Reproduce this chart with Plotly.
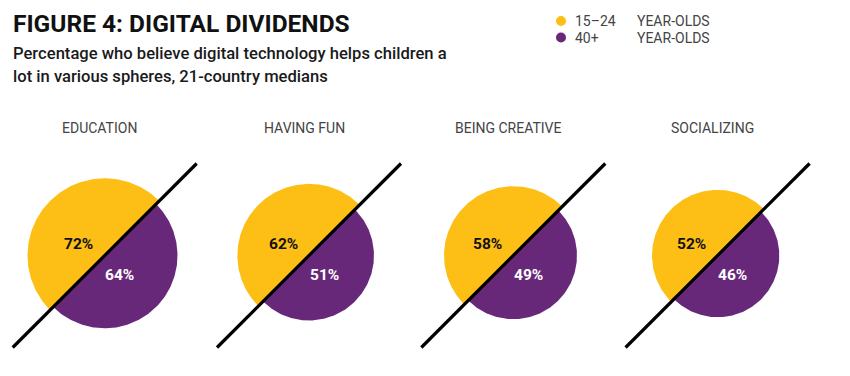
import numpy as np
import plotly.graph_objects as go

# ---- data ----
categories = ["EDUCATION", "HAVING FUN", "BEING CREATIVE", "SOCIALIZING"]
young_values = [72, 62, 58, 52]   # 15–24 year-olds
older_values = [64, 51, 49, 46]   # 40+ year-olds
series_names = ["15–24", "40+"]
series_suffix = "YEAR-OLDS"
title_text = "FIGURE 4: DIGITAL DIVIDENDS"
subtitle_lines = ["Percentage who believe digital technology helps children a",
                  "lot in various spheres, 21-country medians"]

# ---- style ----
YELLOW = "#FDBE16"
PURPLE = "#68287A"
FONT = "Roboto"
W, H = 850, 376
X0, DX, CY = 104.7, 204.3, 255.5      # layout of the circle centres (px units)
K = 9.1                                # radius scale: r = K * sqrt(value)
HALF_LINE = 92                         # half extent of diagonal divider
LABEL_Y = 127.5

fig = go.Figure()


def half_disc(cx, cy, r, a0, a1):
    t = np.radians(np.linspace(a0, a1, 181))
    xs = cx + r * np.cos(t)
    ys = cy - r * np.sin(t)
    return list(xs) + [xs[0]], list(ys) + [ys[0]]


for i, cat in enumerate(categories):
    cx = X0 + DX * i
    ry = K * np.sqrt(young_values[i])
    rp = K * np.sqrt(older_values[i])
    xs, ys = half_disc(cx, CY, ry, 45, 225)
    fig.add_trace(go.Scatter(x=xs, y=ys, mode="lines", fill="toself",
                             fillcolor=YELLOW, line=dict(width=0, color=YELLOW),
                             hoverinfo="skip", showlegend=False))
    xs, ys = half_disc(cx, CY, rp, 225, 405)
    fig.add_trace(go.Scatter(x=xs, y=ys, mode="lines", fill="toself",
                             fillcolor=PURPLE, line=dict(width=0, color=PURPLE),
                             hoverinfo="skip", showlegend=False))
    fig.add_trace(go.Scatter(x=[cx - HALF_LINE, cx + HALF_LINE],
                             y=[CY + HALF_LINE, CY - HALF_LINE],
                             mode="lines", line=dict(color="#000000", width=3.2),
                             hoverinfo="skip", showlegend=False))
    fig.add_annotation(x=cx - 26, y=CY - 12, text=f"{young_values[i]}%",
                       showarrow=False, xanchor="center", yanchor="middle",
                       font=dict(family=FONT, size=15.5, color="#111111", weight="bold"))
    fig.add_annotation(x=cx + 15, y=CY + 19, text=f"{older_values[i]}%",
                       showarrow=False, xanchor="center", yanchor="middle",
                       font=dict(family=FONT, size=15.5, color="#FFFFFF", weight="bold"))
    fig.add_annotation(x=cx - 5, y=LABEL_Y, text=cat, showarrow=False,
                       xanchor="center", yanchor="middle",
                       font=dict(family=FONT, size=14, color="#444444"))

# title & subtitle
fig.add_annotation(x=11, y=23, text=title_text, showarrow=False,
                   xanchor="left", yanchor="middle",
                   font=dict(family=FONT, size=24.5, color="#111111", weight="bold"))
for j, line in enumerate(subtitle_lines):
    fig.add_annotation(x=11, y=53 + 23.5 * j, text=line, showarrow=False,
                       xanchor="left", yanchor="middle",
                       font=dict(family=FONT, size=16.6, color="#1a1a1a", weight=500))

# legend
for j, (name, col) in enumerate(zip(series_names, [YELLOW, PURPLE])):
    yy = 21 + 16.5 * j
    fig.add_trace(go.Scatter(x=[561], y=[yy], mode="markers",
                             marker=dict(size=10, color=col), hoverinfo="skip",
                             showlegend=False))
    fig.add_annotation(x=573, y=yy, text=name, showarrow=False, xanchor="left",
                       yanchor="middle", font=dict(family=FONT, size=14, color="#444444"))
    fig.add_annotation(x=635, y=yy, text=series_suffix, showarrow=False, xanchor="left",
                       yanchor="middle", font=dict(family=FONT, size=14, color="#444444"))

fig.update_layout(
    width=W, height=H, margin=dict(l=0, r=0, t=0, b=0),
    paper_bgcolor="white", plot_bgcolor="white",
    xaxis=dict(range=[0, W], visible=False, fixedrange=True),
    yaxis=dict(range=[H, 0], visible=False, fixedrange=True),
    showlegend=False,
)

fig.write_html("out.html", config={"displayModeBar": False},
               post_script="document.body.style.margin='0';document.body.style.overflow='hidden';")
